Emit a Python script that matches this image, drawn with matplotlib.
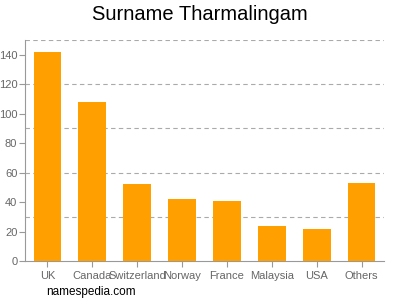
import matplotlib
matplotlib.use("Agg")
import matplotlib.pyplot as plt

countries = ["UK", "Canada", "Switzerland", "Norway", "France", "Malaysia", "USA", "Others"]
counts = [142, 108, 52, 42, 41, 24, 22, 53]
yticks = [0, 20, 40, 60, 80, 100, 120, 140]
gridlines = [30, 60, 90, 120, 150]

plt.rcParams['font.family'] = ['Liberation Sans', 'DejaVu Sans']

fig = plt.figure(figsize=(4, 3), dpi=100)
ax = fig.add_axes([0.0625, 0.13, 0.8975, 0.737])

x = range(len(countries))
ax.bar(x, counts, width=0.62, color="#ffa000", zorder=3)

for g in gridlines:
    ax.axhline(g, color="#aaaaaa", linestyle=(0, (4, 3)), linewidth=0.8, zorder=1)

ax.set_xlim(-0.5, len(countries) - 0.5)
ax.set_ylim(0, 150)
ax.set_yticks(yticks)
ax.set_xticks(list(x))
ax.set_xticklabels(countries)

ax.tick_params(axis='both', colors="#999999", labelsize=8, length=4, width=0.8, pad=1.5)
ax.tick_params(axis='x', labelcolor="#666666", pad=3)
ax.tick_params(axis='y', labelcolor="#666666")
for side in ["top", "right"]:
    ax.spines[side].set_visible(False)
for side in ["left", "bottom"]:
    ax.spines[side].set_color("#999999")
    ax.spines[side].set_linewidth(0.8)

fig.text(0.5, 0.95, "Surname Tharmalingam", ha="center", va="center", fontsize=14.5)
fig.text(0.115, 0.027, "namespedia.com", ha="left", va="center", fontsize=8.5)

fig.savefig("out.png", dpi=100)
